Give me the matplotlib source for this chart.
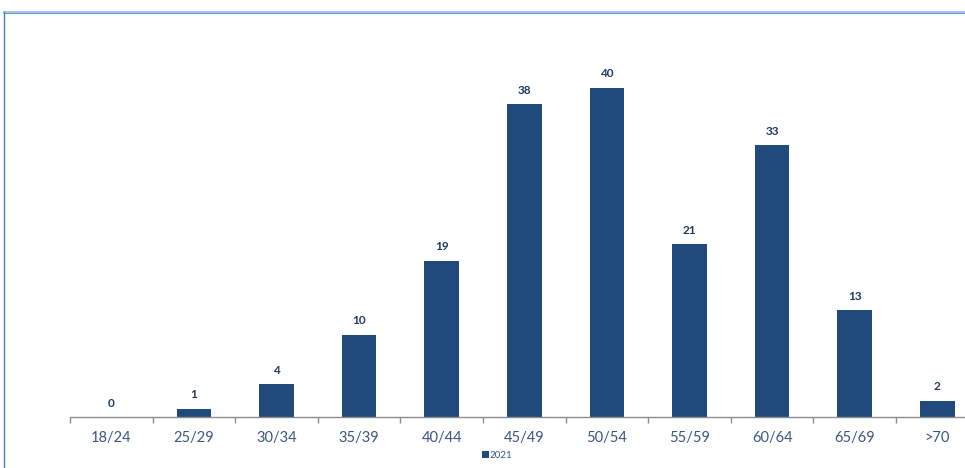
import matplotlib
matplotlib.use("Agg")
import matplotlib.pyplot as plt
from matplotlib.lines import Line2D

# datos
categorias = ["18/24", "25/29", "30/34", "35/39", "40/44", "45/49",
              "50/54", "55/59", "60/64", "65/69", ">70"]
valores_2021 = [0, 1, 4, 10, 19, 38, 40, 21, 33, 13, 2]
serie = "2021"

plt.rcParams["font.family"] = ["Lato", "DejaVu Sans"]

color_barra = "#204a7c"
color_texto = "#3a5583"

fig = plt.figure(figsize=(9.65, 4.68), dpi=100)
ax = fig.add_axes([70 / 965, 51 / 468, 908.6 / 965, 387 / 468])

x = list(range(len(categorias)))
ax.bar(x, valores_2021, width=0.42, color=color_barra, label=serie, zorder=2)

for xi, v in zip(x, valores_2021):
    ax.annotate(str(v), (xi, v), xytext=(0, 6), textcoords="offset points",
                ha="center", va="bottom", fontsize=8.5, fontweight="bold",
                color="#1f3864")

ax.set_xlim(-0.5, len(categorias) - 0.5)
ax.set_ylim(0, 47)
ax.set_yticks([])
ax.set_xticks(x)
ax.set_xticklabels(categorias, fontsize=10.5, color=color_texto)
ax.tick_params(axis="x", which="major", length=0, pad=10)
ax.set_xticks([i - 0.5 for i in range(len(categorias) + 1)], minor=True)
ax.tick_params(axis="x", which="minor", length=4, color="#8c8c8c", width=1)

for s in ["top", "right", "left"]:
    ax.spines[s].set_visible(False)
ax.spines["bottom"].set_color("#8c8c8c")
ax.spines["bottom"].set_linewidth(1)

# marco de la diapositiva
fig.add_artist(Line2D([4 / 965, 1], [1 - 12 / 468] * 2, color="#a9c6e8", lw=2.2))
fig.add_artist(Line2D([4 / 965, 1], [1 - 13 / 468] * 2, color="#5b8cc9", lw=0.6))
fig.add_artist(Line2D([4 / 965] * 2, [0, 1 - 12 / 468], color="#4a7cc0", lw=1))

fig.legend(loc="center", bbox_to_anchor=(497 / 965, 13 / 468), frameon=False,
           fontsize=7, handlelength=0.7, handleheight=0.7, handletextpad=0.1,
           labelcolor=color_texto)

fig.savefig("out.png", dpi=100, facecolor="white")
